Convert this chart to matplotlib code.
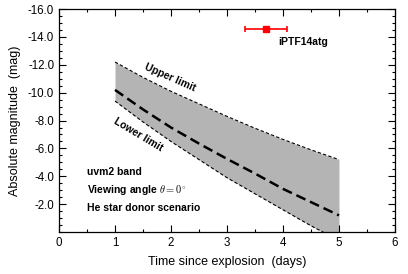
import matplotlib
matplotlib.use("Agg")
import matplotlib.pyplot as plt
from matplotlib.ticker import MultipleLocator, FixedLocator, FixedFormatter
import numpy as np

plt.rcParams['font.family'] = ['Liberation Sans', 'DejaVu Sans']
plt.rcParams['mathtext.fontset'] = 'cm'

t = [1.0, 1.5, 2.0, 2.5, 3.0, 3.5, 4.0, 4.5, 5.0]
upper = [-12.2, -11.1, -10.1, -9.2, -8.3, -7.45, -6.65, -5.9, -5.2]
median = [-10.2, -8.8, -7.5, -6.35, -5.25, -4.2, -3.1, -2.15, -1.2]
lower = [-9.4, -7.9, -6.5, -5.2, -3.9, -2.75, -1.6, -0.45, 0.6]

obs_t = [3.70]
obs_terr = [0.37]
obs_mag = [-14.57]
obs_label = "iPTF14atg"

yticks = [-16, -14, -12, -10, -8, -6, -4, -2]
ytick_labels = ["-16.0", "-14.0", "-12.0", "-10.0", "-8.0", "-6.0", "-4.0", "-2.0"]
xticks = [0, 1, 2, 3, 4, 5, 6]

fig = plt.figure(figsize=(4.08, 2.74), dpi=100)
ax = fig.add_axes([0.1446, 0.153, 0.8235, 0.814])

ax.fill_between(t, upper, lower, color='#b4b4b4', lw=0)
ax.plot(t, upper, color='black', lw=0.8, ls=(0, (3, 2)))
ax.plot(t, lower, color='black', lw=0.8, ls=(0, (3, 2)))
ax.plot(t, median, color='black', lw=1.8, ls=(0, (4, 2)))

ax.errorbar(obs_t, obs_mag, xerr=obs_terr, fmt='s', color='red', ms=5,
            elinewidth=1.2, capsize=2, capthick=1.2)
ax.text(3.91, -13.6, obs_label, fontsize=7.5, fontweight='bold', va='center', ha='left')

ax.text(1.98, -11.05, "Upper limit", fontsize=7.5, fontweight='bold', rotation=-24,
        ha='center', va='center')
ax.text(1.42, -7.0, "Lower limit", fontsize=7.5, fontweight='bold', rotation=-31,
        ha='center', va='center')

ax.text(0.5, -4.3, "uvm2 band", fontsize=7.5, fontweight='bold', va='center')
ax.text(0.5, -3.0, r"Viewing angle $\theta = 0^{\circ}$", fontsize=7.5, fontweight='bold', va='center')
ax.text(0.5, -1.7, "He star donor scenario", fontsize=7.5, fontweight='bold', va='center')

ax.set_xlim(0, 6)
ax.set_ylim(0, -16)
ax.xaxis.set_major_locator(FixedLocator(xticks))
ax.xaxis.set_minor_locator(MultipleLocator(0.5))
ax.yaxis.set_major_locator(FixedLocator(yticks))
ax.yaxis.set_major_formatter(FixedFormatter(ytick_labels))
ax.yaxis.set_minor_locator(MultipleLocator(0.5))
ax.tick_params(which='both', direction='in', top=True, right=True, labelsize=8.3, width=0.8)
ax.tick_params(which='major', length=5)
ax.tick_params(which='minor', length=2.5)
for s in ax.spines.values():
    s.set_linewidth(0.9)

ax.set_xlabel("Time since explosion  (days)", fontsize=9, labelpad=5)
ax.set_ylabel("Absolute magnitude  (mag)", fontsize=9, labelpad=5)

fig.savefig("out.png", dpi=100)
